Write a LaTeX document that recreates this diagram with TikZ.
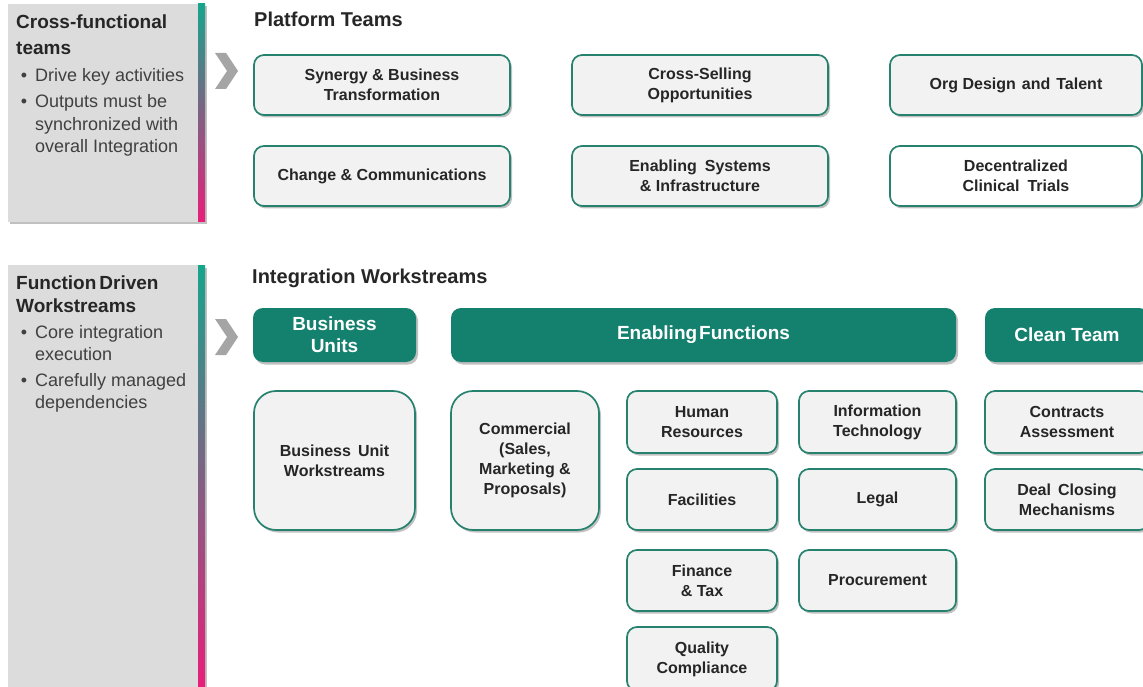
\documentclass[tikz,border=0pt]{standalone}
\usepackage{fontspec}
\setmainfont{Liberation Sans}
\usetikzlibrary{shadows}

\definecolor{tealline}{RGB}{38,130,110}
\definecolor{tealfill}{RGB}{20,128,110}
\definecolor{boxfill}{RGB}{242,242,242}
\definecolor{panelgray}{RGB}{220,220,220}
\definecolor{inkdark}{RGB}{38,38,38}
\definecolor{inkgray}{RGB}{64,64,64}
\definecolor{chevgray}{RGB}{165,165,165}
\definecolor{bartop}{RGB}{22,165,140}
\definecolor{barmid}{RGB}{95,110,140}
\definecolor{barbot}{RGB}{232,30,122}

\tikzset{
  softshadow/.style={drop shadow={shadow xshift=2pt, shadow yshift=-2.5pt, opacity=0.35, fill=black!70}},
  workbox/.style={rectangle, rounded corners=10pt, draw=tealline, line width=1.7pt,
    fill=boxfill, softshadow, inner sep=0pt, align=center, text=inkdark,
    font=\bfseries\fontsize{16}{20}\selectfont},
  bigbox/.style={workbox, rounded corners=22pt},
  headbox/.style={rectangle, rounded corners=10pt, fill=tealfill, softshadow,
    inner sep=0pt, align=center, text=white, font=\bfseries\fontsize{19}{22}\selectfont},
  sectitle/.style={anchor=base west, inner sep=0pt, text=inkdark,
    font=\bfseries\fontsize{20}{24}\selectfont},
  paneltitle/.style={anchor=base west, inner sep=0pt, text=inkdark,
    font=\bfseries\fontsize{19}{23}\selectfont},
  panelline/.style={anchor=base west, inner sep=0pt, text=inkgray,
    font=\fontsize{18}{23}\selectfont},
  chevron/.style={fill=chevgray}
}
\newcommand{\bulletmark}{\makebox[0pt][r]{\textbullet\hspace{8pt}}}

\begin{document}
\begin{tikzpicture}[x=1pt,y=-1pt]
\useasboundingbox (0,0) rectangle (1143,687);
\fill[white] (0,0) rectangle (1143,687);

% ---------- left side panels ----------
\fill[panelgray, softshadow] (8,4) rectangle (205,222);
\shade[top color=bartop, middle color=barmid, bottom color=barbot] (198,4) rectangle (205,222);
\fill[panelgray, softshadow] (8,265) rectangle (205,700);
\shade[top color=bartop, middle color=barmid, bottom color=barbot] (198,265) rectangle (205,687);

% panel 1 text
\node[paneltitle] (p1a) at (16,29) {Cross-functional};
\node[paneltitle] (p1b) at (16,55) {teams};
\node[panelline] (p1c) at (35,82) {\bulletmark Drive key activities};
\node[panelline] (p1d) at (35,108) {\bulletmark Outputs must be};
\node[panelline] (p1e) at (35,131) {synchronized with};
\node[panelline] (p1f) at (35,153) {overall Integration};

% panel 2 text
\node[paneltitle] (p2a) at (16,289) {Function\hspace{3pt}Driven};
\node[paneltitle] (p2b) at (16,312) {Workstreams};
\node[panelline] (p2c) at (35,338) {\bulletmark Core integration};
\node[panelline] (p2d) at (35,360) {execution};
\node[panelline] (p2e) at (35,386) {\bulletmark Carefully managed};
\node[panelline] (p2f) at (35,408) {dependencies};

% chevrons
\fill[chevron] (215,53) -- (226,53) -- (238,71) -- (226,89) -- (215,89) -- (227,71) -- cycle;
\fill[chevron] (215,319) -- (226,319) -- (238,337) -- (226,355) -- (215,355) -- (227,337) -- cycle;

% ---------- platform teams ----------
\node[sectitle] (pt) at (254,27) {Platform Teams};

\node[workbox, minimum width=256pt, minimum height=60pt] (syn) at (382,85) {Synergy \& Business\\Transformation};
\node[workbox, minimum width=256pt, minimum height=60pt] (xsell) at (700,85) {Cross-Selling\\Opportunities};
\node[workbox, minimum width=252pt, minimum height=60pt] (org) at (1016,85) {Org Design\hspace{6pt}and\hspace{6pt}Talent};
\node[workbox, minimum width=256pt, minimum height=60pt] (chg) at (382,176) {Change \& Communications};
\node[workbox, minimum width=256pt, minimum height=60pt] (sys) at (700,176) {Enabling\hspace{8pt}Systems\\\& Infrastructure};
\node[workbox, fill=white, minimum width=252pt, minimum height=60pt] (dct) at (1016,176) {Decentralized\\Clinical\hspace{8pt}Trials};

% ---------- integration workstreams ----------
\node[sectitle] (iw) at (252,283) {Integration Workstreams};

\node[headbox, minimum width=163pt, minimum height=54pt] (bu) at (334.5,335) {Business\\Units};
\node[headbox, minimum width=505pt, minimum height=54pt] (ef) at (703.5,335) {Enabling\hspace{2pt}Functions};
\node[headbox, minimum width=164pt, minimum height=54pt] (ct) at (1067,335) {Clean Team};

\node[bigbox, minimum width=161pt, minimum height=139pt] (buw) at (334.5,460.5) {Business\hspace{7pt}Unit\\Workstreams};
\node[bigbox, minimum width=148pt, minimum height=139pt] (com) at (525,460.5) {Commercial\\(Sales,\\Marketing \&\\Proposals)};

\node[workbox, minimum width=150pt, minimum height=62pt] (hr) at (702,422) {Human\\Resources};
\node[workbox, minimum width=157pt, minimum height=62pt] (it) at (877.5,422) {Information\\Technology};
\node[workbox, minimum width=150pt, minimum height=61pt] (fac) at (702,499.5) {Facilities};
\node[workbox, minimum width=157pt, minimum height=61pt] (leg) at (877.5,499.5) {Legal};
\node[workbox, minimum width=150pt, minimum height=61pt] (fin) at (702,580.5) {Finance\\\& Tax};
\node[workbox, minimum width=157pt, minimum height=61pt] (proc) at (877.5,580.5) {Procurement};
\node[workbox, minimum width=150pt, minimum height=64pt] (qc) at (702,659) {Quality\\Compliance};

\node[workbox, minimum width=164pt, minimum height=62pt] (ca) at (1067,422) {Contracts\\Assessment};
\node[workbox, minimum width=164pt, minimum height=61pt] (dcm) at (1067,499.5) {Deal\hspace{7pt}Closing\\Mechanisms};
\end{tikzpicture}
\end{document}
